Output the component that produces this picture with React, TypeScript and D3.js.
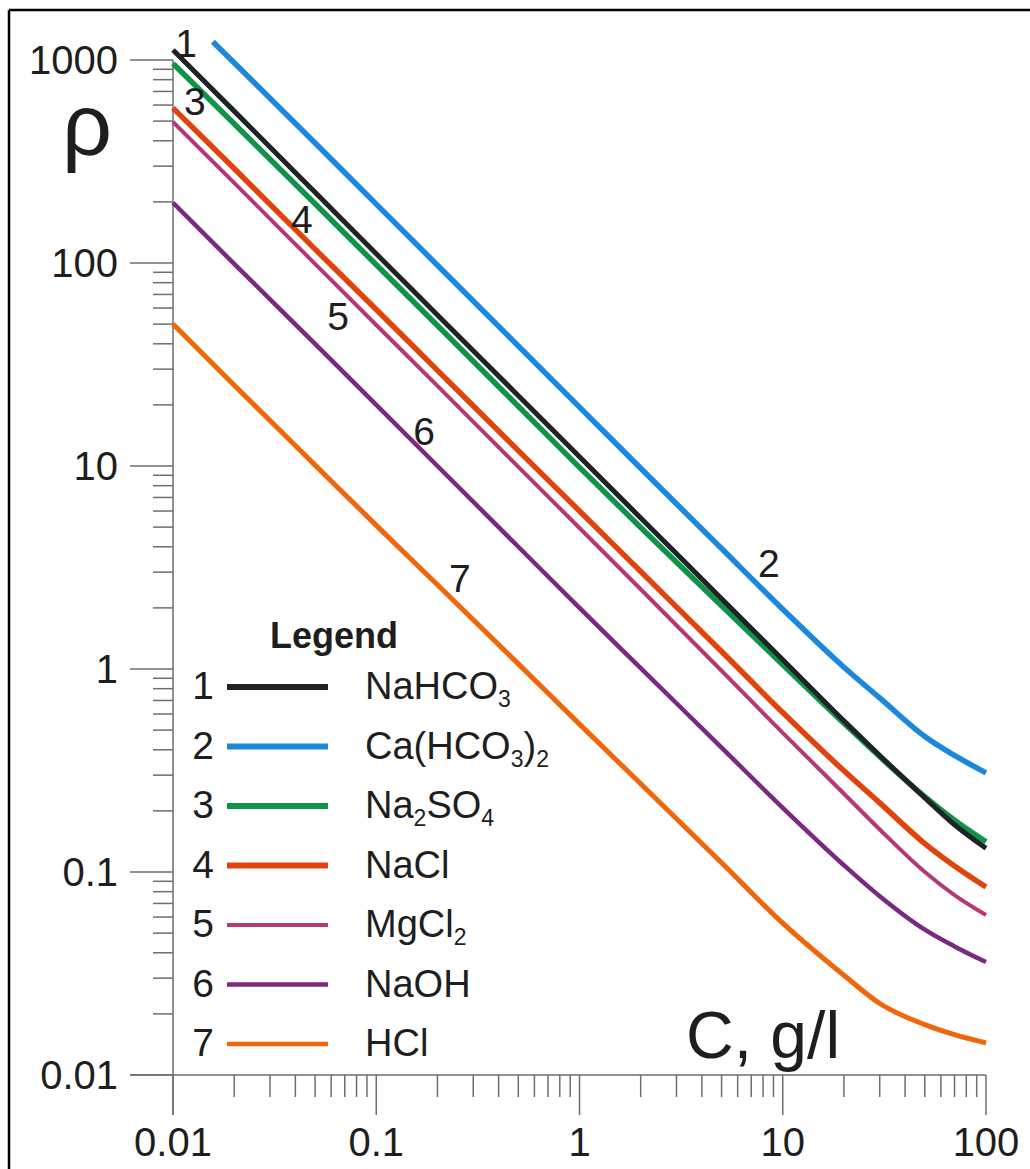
import React from "react";
import * as d3 from "d3";

// ---- data ----
const concentrations = [0.01, 0.02, 0.05, 0.1, 0.2, 0.5, 1, 2, 5, 10, 20, 30, 50, 70, 100];
const concentrationsCa = [0.0157, 0.02, 0.05, 0.1, 0.2, 0.5, 1, 2, 5, 10, 20, 30, 50, 70, 100];

const rhoNaHCO3 = [1120, 560, 223, 111, 55.5, 22.2, 11.1, 5.55, 2.22, 1.11, 0.555, 0.375, 0.232, 0.171, 0.131];
const rhoCaHCO3 = [1230, 970, 390, 195, 97.5, 39, 19.5, 9.75, 3.92, 1.97, 1.02, 0.72, 0.465, 0.375, 0.308];
const rhoNa2SO4 = [960, 485, 196, 98, 49.2, 19.7, 9.85, 4.98, 2.05, 1.05, 0.54, 0.37, 0.235, 0.18, 0.141];
const rhoNaCl = [580, 292, 117, 59, 29.6, 11.9, 6.0, 3.02, 1.22, 0.61, 0.315, 0.219, 0.138, 0.107, 0.0843];
const rhoMgCl2 = [495, 248, 99, 49.5, 24.8, 9.9, 4.95, 2.47, 0.98, 0.485, 0.243, 0.162, 0.1, 0.077, 0.0614];
const rhoNaOH = [198, 99, 40, 20, 10, 4.0, 2.0, 1.01, 0.41, 0.207, 0.108, 0.076, 0.052, 0.043, 0.036];
const rhoHCl = [50, 25, 10.1, 5.1, 2.6, 1.06, 0.535, 0.272, 0.111, 0.056, 0.031, 0.0225, 0.0177, 0.0158, 0.0144];

const seriesNumbers = ["1", "2", "3", "4", "5", "6", "7"];
const seriesNames = ["NaHCO3", "Ca(HCO3)2", "Na2SO4", "NaCl", "MgCl2", "NaOH", "HCl"];
const seriesColors = ["#1f2326", "#1a88dc", "#0e9448", "#e0440c", "#b43a76", "#7a2a7e", "#f0660a"];
const seriesWidths = [5, 5.5, 5.5, 5.5, 4, 4.5, 5];
const legendWidths = [6, 6, 6, 6, 4, 4.3, 4.3];
const seriesX = [concentrations, concentrationsCa, concentrations, concentrations, concentrations, concentrations, concentrations];
const seriesY = [rhoNaHCO3, rhoCaHCO3, rhoNa2SO4, rhoNaCl, rhoMgCl2, rhoNaOH, rhoHCl];
const drawOrder = [6, 5, 4, 3, 2, 0, 1];

// curve number annotations (C, rho) at text baseline centre
const curveLabelC = [0.0116, 8.55, 0.0128, 0.0431, 0.0649, 0.172, 0.258];
const curveLabelRho = [1035, 2.84, 536, 140.6, 46.8, 12.7, 2.39];

const xTickValues = [0.01, 0.1, 1, 10, 100];
const xTickLabels = ["0.01", "0.1", "1", "10", "100"];
const yTickValues = [0.01, 0.1, 1, 10, 100, 1000];
const yTickLabels = ["0.01", "0.1", "1", "10", "100", "1000"];

const FONT = "'Liberation Sans', Arial, Helvetica, sans-serif";
const TEXT = "#1e1e1e";
const AXIS = "#6e6e6e";

function Formula({ text, x, y }: { text: string; x: number; y: number }) {
  const parts = text.split(/(\d+)/).filter((p) => p.length > 0);
  let sub = false;
  return (
    <text x={x} y={y} fontFamily={FONT} fontSize={38} fill={TEXT}>
      {parts.map((p, i) => {
        const isDigit = /^\d+$/.test(p);
        let dy = 0;
        if (isDigit && !sub) { dy = 8; sub = true; }
        else if (!isDigit && sub) { dy = -8; sub = false; }
        return (
          <tspan key={i} dy={dy} fontSize={isDigit ? 23 : 38}>{p}</tspan>
        );
      })}
    </text>
  );
}

export default function App() {
  const W = 1030, H = 1169;
  const x = d3.scaleLog().domain([0.01, 100]).range([173, 986]);
  const y = d3.scaleLog().domain([0.01, 1000]).range([1075, 60]);

  const xMinor = x.ticks().filter((v) => !xTickValues.some((m) => Math.abs(m - v) / m < 1e-6));
  const yMinor = y.ticks().filter((v) => !yTickValues.some((m) => Math.abs(m - v) / m < 1e-6));

  const line = d3.line<[number, number]>()
    .x((d) => x(d[0]))
    .y((d) => y(d[1]))
    .curve(d3.curveMonotoneX);

  const legendX0 = 227, legendX1 = 328;
  const legendRowY = (i: number) => 687 + i * 59.5;

  return (
    <svg width={W} height={H} style={{ position: "absolute", left: 0, top: 0, background: "#fff" }}>
      <rect x={0} y={0} width={W} height={H} fill="#fff" />
      {/* frame (top and left) */}
      <line x1={9} y1={10} x2={W} y2={10} stroke="#000" strokeWidth={2.5} />
      <line x1={9} y1={10} x2={9} y2={H} stroke="#000" strokeWidth={2.5} />

      {/* axes */}
      <line x1={x(0.01)} y1={y(1000)} x2={x(0.01)} y2={1115} stroke={AXIS} strokeWidth={1.5} />
      <line x1={130} y1={y(0.01)} x2={x(100)} y2={y(0.01)} stroke={AXIS} strokeWidth={1.5} />
      {yTickValues.map((v, i) => (
        <g key={"ym" + i}>
          <line x1={130} x2={x(0.01)} y1={y(v)} y2={y(v)} stroke={AXIS} strokeWidth={1.5} />
          <text x={118} y={y(v) + 14} textAnchor="end" fontFamily={FONT} fontSize={40} fill={TEXT}>{yTickLabels[i]}</text>
        </g>
      ))}
      {yMinor.map((v, i) => (
        <line key={"yn" + i} x1={153} x2={x(0.01)} y1={y(v)} y2={y(v)} stroke={AXIS} strokeWidth={1.5} />
      ))}
      {xTickValues.map((v, i) => (
        <g key={"xm" + i}>
          <line x1={x(v)} x2={x(v)} y1={y(0.01)} y2={1115} stroke={AXIS} strokeWidth={1.5} />
          <text x={x(v)} y={1156} textAnchor="middle" fontFamily={FONT} fontSize={40} fill={TEXT}>{xTickLabels[i]}</text>
        </g>
      ))}
      {xMinor.map((v, i) => (
        <line key={"xn" + i} x1={x(v)} x2={x(v)} y1={y(0.01)} y2={1097} stroke={AXIS} strokeWidth={1.5} />
      ))}

      {/* axis titles */}
      <text x={62} y={155} fontFamily={FONT} fontSize={88} fill={TEXT}>ρ</text>
      <text x={686} y={1058} fontFamily={FONT} fontSize={66} fill={TEXT}>C, g/l</text>

      {/* curves */}
      {drawOrder.map((s) => {
        const pts = seriesX[s].map((c, j) => [c, seriesY[s][j]] as [number, number]);
        return (
          <path key={"c" + s} d={line(pts) || ""} fill="none" stroke={seriesColors[s]}
            strokeWidth={seriesWidths[s]} strokeLinejoin="round" strokeLinecap="butt" />
        );
      })}

      {/* curve numbers */}
      {seriesNumbers.map((n, i) => (
        <text key={"cl" + i} x={x(curveLabelC[i])} y={y(curveLabelRho[i])} textAnchor="middle"
          fontFamily={FONT} fontSize={39} fill={TEXT}>{n}</text>
      ))}

      {/* legend */}
      <text x={270} y={648} fontFamily={FONT} fontSize={36} fontWeight="bold" fill={TEXT}>Legend</text>
      {seriesNames.map((name, i) => (
        <g key={"lg" + i}>
          <text x={214} y={legendRowY(i) + 12} textAnchor="end" fontFamily={FONT} fontSize={39} fill={TEXT}>{seriesNumbers[i]}</text>
          <line x1={legendX0} x2={legendX1} y1={legendRowY(i)} y2={legendRowY(i)} stroke={seriesColors[i]} strokeWidth={legendWidths[i]} />
          <Formula text={name} x={365} y={legendRowY(i) + 12} />
        </g>
      ))}
    </svg>
  );
}
